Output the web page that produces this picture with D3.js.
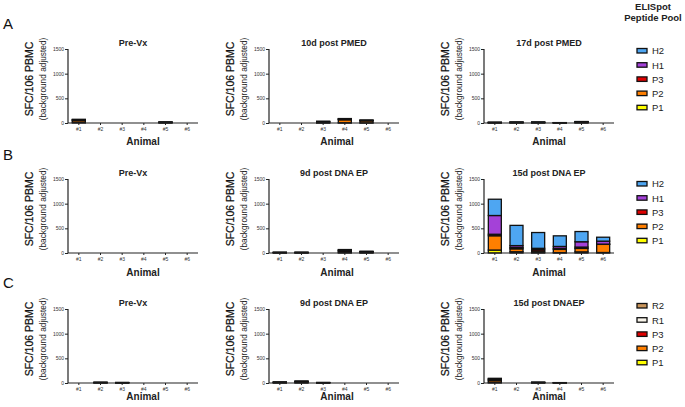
<!DOCTYPE html>
<html>
<head>
  <meta charset="utf-8">
  <script src="https://d3js.org/d3.v7.min.js"></script>
  <style>
    body { margin: 0; background: #fff; }
    text { font-family: "Liberation Sans", Arial, sans-serif; }
  </style>
</head>
<body>
<script>
  // animals on the x axis
  var animals = ["#1", "#2", "#3", "#4", "#5", "#6"];
  var yTicks = [0, 500, 1000, 1500];

  // peptide pools, stacking order bottom -> top
  var poolsH = ["P1", "P2", "P3", "H1", "H2"];
  var poolsR = ["P1", "P2", "P3", "R1", "R2"];
  var poolColors = {
    P1: "#ffff00", P2: "#ff7f00", P3: "#e00000",
    H1: "#a441d8", H2: "#4ea6f2",
    R1: "#f8f4ea", R2: "#c9955b"
  };

  // row / panel titles
  var rowLetters = ["A", "B", "C"];
  var titlesA = ["Pre-Vx", "10d post PMED", "17d post PMED"];
  var titlesB = ["Pre-Vx", "9d post DNA EP", "15d post DNA EP"];
  var titlesC = ["Pre-Vx", "9d post DNA EP", "15d post DNAEP"];

  // SFC per 10^6 PBMC, one row per pool (bottom -> top), one column per animal
  var aPre  = [[15,0,0,0,4,0],[35,0,0,0,8,0],[10,0,0,0,4,0],[8,0,0,0,2,0],[7,0,0,0,2,0]];
  var a10d  = [[0,0,3,5,3,0],[0,0,15,60,40,0],[0,0,8,12,8,0],[0,0,5,7,5,0],[0,0,4,6,4,0]];
  var a17d  = [[3,4,4,2,6,0],[5,6,6,3,10,0],[3,4,4,1,6,0],[2,3,3,1,4,0],[2,3,3,1,4,0]];

  var bPre  = [[0,0,0,0,0,0],[0,0,0,0,0,0],[0,0,0,0,0,0],[0,0,0,0,0,0],[0,0,0,0,0,0]];
  var b9d   = [[3,3,0,10,5,0],[5,5,0,25,12,0],[3,3,0,15,8,0],[2,2,0,10,5,0],[2,2,0,10,5,0]];
  var b15d  = [[60,25,10,8,23,10],[290,60,30,65,70,165],[30,25,30,20,27,5],[380,40,25,40,108,60],[330,410,320,215,207,80]];

  var cPre  = [[0,3,2,0,0,0],[0,5,4,0,0,0],[0,3,2,0,0,0],[0,2,1,0,0,0],[0,2,1,0,0,0]];
  var c9d   = [[4,8,2,0,0,0],[7,14,4,0,0,0],[4,8,2,0,0,0],[3,5,1,0,0,0],[2,5,1,0,0,0]];
  var c15d  = [[15,0,3,2,0,0],[35,0,6,3,0,0],[20,0,3,2,0,0],[15,0,2,1,0,0],[10,0,1,0,0,0]];

  var rows = [
    { titles: titlesA, pools: poolsH, data: [aPre, a10d, a17d] },
    { titles: titlesB, pools: poolsH, data: [bPre, b9d, b15d] },
    { titles: titlesC, pools: poolsR, data: [cPre, c9d, c15d] }
  ];

  // layout
  var W = 685, H = 407;
  var colX = [68, 269, 484], plotW = 130;
  var rowY = [49, 179, 309], plotH = 74;
  var letterY = [29, 160, 288];
  var animalY = [145, 276, 400];
  var animalDx = [10, 3, 0];
  var legendY = [51, 184, 306];

  var svg = d3.select("body").append("svg")
      .attr("width", W).attr("height", H);

  // legend header
  var head = svg.append("text")
      .attr("x", 653).attr("text-anchor", "middle")
      .style("font-weight", "bold").style("font-size", "9.5px").attr("fill", "#222");
  head.append("tspan").attr("x", 653).attr("y", 10).text("ELISpot");
  head.append("tspan").attr("x", 653).attr("y", 21).text("Peptide Pool");

  var y = d3.scaleLinear().domain([0, 1500]).range([plotH, 0]);
  var x = d3.scaleBand().domain(animals).range([0, plotW]).paddingInner(0.4).paddingOuter(0.2);

  rows.forEach(function (row, ri) {
    svg.append("text")
        .attr("x", 3).attr("y", letterY[ri])
        .style("font-size", "15px").attr("fill", "#111")
        .text(rowLetters[ri]);

    row.data.forEach(function (vals, ci) {
      var g = svg.append("g")
          .attr("transform", "translate(" + colX[ci] + "," + rowY[ri] + ")");

      // stack the pools
      var table = animals.map(function (a, i) {
        var o = { animal: a };
        row.pools.forEach(function (p, pi) { o[p] = vals[pi][i]; });
        return o;
      });
      var series = d3.stack().keys(row.pools)(table);

      g.selectAll("g.layer").data(series).enter().append("g")
          .attr("class", "layer")
          .attr("fill", function (d) { return poolColors[d.key]; })
        .selectAll("rect").data(function (d) { return d; }).enter().append("rect")
          .filter(function (d) { return d[1] - d[0] > 0; })
          .attr("x", function (d) { return x(d.data.animal); })
          .attr("width", x.bandwidth())
          .attr("y", function (d) { return y(d[1]); })
          .attr("height", function (d) { return y(d[0]) - y(d[1]); })
          .attr("stroke", "#111").attr("stroke-width", 1.3);

      // axes
      var yAxis = g.append("g")
          .call(d3.axisLeft(y).tickValues(yTicks).tickFormat(d3.format("d")).tickSize(3).tickPadding(1));
      var xAxis = g.append("g")
          .attr("transform", "translate(0," + plotH + ")")
          .call(d3.axisBottom(x).tickSize(2).tickPadding(2));
      [yAxis, xAxis].forEach(function (ax) {
        ax.select(".domain").attr("stroke", "#222").attr("stroke-width", 1.2);
        ax.selectAll(".tick line").attr("stroke", "#222");
        ax.selectAll(".tick text").style("font-size", "5px").attr("fill", "#333")
            .style("font-family", "'Liberation Sans', Arial, sans-serif");
      });
      xAxis.select(".domain").attr("d", "M0,0H" + plotW);
      yAxis.select(".domain").attr("d", "M0," + plotH + "V0");

      // titles
      g.append("text")
          .attr("x", plotW / 2).attr("y", -3).attr("text-anchor", "middle")
          .style("font-weight", "bold").style("font-size", "9px").attr("fill", "#222")
          .text(row.titles[ci]);

      g.append("text")
          .attr("x", plotW / 2 + animalDx[ci]).attr("y", animalY[ri] - rowY[ri])
          .attr("text-anchor", "middle")
          .style("font-weight", "bold").style("font-size", "10px").attr("fill", "#222")
          .text("Animal");

      var lab = g.append("g").attr("transform", "translate(0," + (plotH / 2 - 7) + ") rotate(-90)");
      lab.append("text").attr("x", 0).attr("y", -35.5).attr("text-anchor", "middle")
          .style("font-size", "10.5px").attr("fill", "#111").attr("stroke", "#111").attr("stroke-width", 0.25)
          .text("SFC/106 PBMC");
      lab.append("text").attr("x", 0).attr("y", -22).attr("text-anchor", "middle")
          .style("font-size", "8.3px").attr("fill", "#222")
          .text("(background adjusted)");
    });

    // legend, listed top pool first
    var items = row.pools.slice().reverse();
    var lg = svg.append("g").attr("transform", "translate(637," + legendY[ri] + ")");
    items.forEach(function (p, i) {
      lg.append("rect")
          .attr("x", 0).attr("y", i * 14.2 - 2.5)
          .attr("width", 10).attr("height", 4.5)
          .attr("fill", poolColors[p]).attr("stroke", "#111").attr("stroke-width", 1.3);
      lg.append("text")
          .attr("x", 15).attr("y", i * 14.2 + 3.4)
          .style("font-size", "9.5px").attr("fill", "#222")
          .text(p);
    });
  });
</script>
</body>
</html>
